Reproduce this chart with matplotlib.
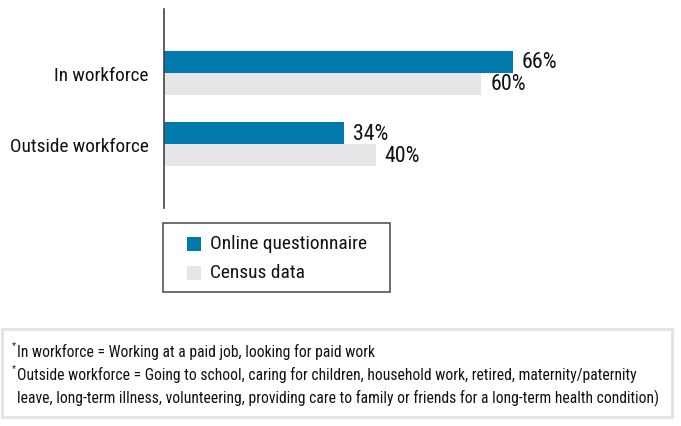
import os
import matplotlib
matplotlib.use("Agg")
import matplotlib.pyplot as plt
from matplotlib.patches import Rectangle
from matplotlib import font_manager as fm

categories = ["In workforce", "Outside workforce"]
series_names = ["Online questionnaire", "Census data"]
online = [66, 34]
census = [60, 40]
value_labels_online = ["66%", "34%"]
value_labels_census = ["60%", "40%"]
footnotes = [
    "In workforce = Working at a paid job, looking for paid work",
    "Outside workforce = Going to school, caring for children, household work, retired, maternity/paternity",
    "leave, long-term illness, volunteering, providing care to family or friends for a long-term health condition)",
]

BLUE = "#0079ad"
GRAY = "#e6e6e8"
TXT = "#111111"


def pick_condensed():
    prefs = ["Liberation Sans Narrow", "Roboto Condensed", "Roboto", "Noto Sans Condensed",
             "Noto Sans", "Open Sans Condensed", "Open Sans", "DejaVu Sans Condensed", "DejaVu Sans"]
    found = {}
    for f in fm.fontManager.ttflist:
        base = os.path.basename(f.fname)
        condensed = ("condensed" in str(f.stretch) or "Narrow" in f.name or "Condensed" in f.name
                     or "Condensed" in base or "Narrow" in base)
        if not condensed:
            continue
        if "ultra" in str(f.stretch) or "extra" in str(f.stretch).lower():
            continue
        if f.style != "normal" or "Italic" in base:
            continue
        if f.weight not in (400, "normal", "regular", "book", "Regular"):
            continue
        if "Bold" in base or "Light" in base or "Medium" in base or "Black" in base or "Thin" in base:
            continue
        found.setdefault(f.name, f.fname)
    for p in prefs:
        if p in found:
            return fm.FontProperties(fname=found[p])
    for n in sorted(found):
        if "CJK" not in n and n.startswith(("Noto Sans", "DejaVu", "Liberation", "Roboto", "Open")):
            return fm.FontProperties(fname=found[n])
    return fm.FontProperties(family="Liberation Sans")


FP = pick_condensed()

W, H = 681, 427
fig = plt.figure(figsize=(W / 100, H / 100), dpi=100)
renderer = fig.canvas.get_renderer()


def fit_size(s, target_px):
    t = fig.text(0, 0, s, fontproperties=FP, fontsize=10)
    w = t.get_window_extent(renderer).width
    t.remove()
    return 10 * target_px / w


def fx(px):
    return px / W


def fy(py):
    return 1 - py / H


size_cat = fit_size("Outside workforce", 138)
size_val = fit_size("66%", 35)
size_leg = fit_size("Online questionnaire", 156)
size_foot = fit_size(footnotes[2], 640)

ax_left, ax_right, ax_top, ax_bot = 164, 660, 10, 209
ax = fig.add_axes([fx(ax_left), fy(ax_bot), fx(ax_right - ax_left), (ax_bot - ax_top) / H])
px_per_pct = 5.29
ax.set_xlim(0, (ax_right - ax_left) / px_per_pct)
ax.set_ylim(1.901, -0.901)

h = 0.31
ypos = list(range(len(categories)))
b1 = ax.barh([y - h / 2 for y in ypos], online, height=h, color=BLUE, label=series_names[0])
b2 = ax.barh([y + h / 2 for y in ypos], census, height=h, color=GRAY, label=series_names[1])

for bars, labs in ((b1, value_labels_online), (b2, value_labels_census)):
    for rect, lab in zip(bars, labs):
        ax.annotate(lab, (rect.get_width(), rect.get_y() + rect.get_height() / 2),
                    xytext=(6.3, 0), textcoords="offset points", va="center", ha="left",
                    fontproperties=FP, fontsize=size_val, color=TXT)

ax.set_yticks(ypos)
ax.set_yticklabels(categories)
for lbl in ax.get_yticklabels():
    lbl.set_fontproperties(FP)
    lbl.set_fontsize(size_cat)
    lbl.set_color(TXT)
ax.tick_params(axis="y", length=0, pad=11)
ax.set_xticks([])
for s in ["top", "right", "bottom"]:
    ax.spines[s].set_visible(False)
ax.spines["left"].set_color("#444444")
ax.spines["left"].set_linewidth(1.2)

# Legend box
fig.patches.append(Rectangle((fx(163), fy(293)), fx(390 - 163), (293 - 224) / H,
                             transform=fig.transFigure, fill=False,
                             edgecolor="#555555", linewidth=1.2))
for i, (name, col) in enumerate(zip(series_names, [BLUE, GRAY])):
    cy = 244.5 + i * 29
    fig.patches.append(Rectangle((fx(187), fy(cy + 7)), fx(14), 14 / H,
                                 transform=fig.transFigure, facecolor=col, edgecolor="none"))
    fig.text(fx(210), fy(cy), name, fontproperties=FP, fontsize=size_leg,
             va="center", ha="left", color=TXT)

# Footnote box
fig.patches.append(Rectangle((fx(2), fy(418)), fx(672 - 2), (418 - 330) / H,
                             transform=fig.transFigure, fill=False,
                             edgecolor="#e2e2e2", linewidth=2))
line_y = [352, 375, 398]
for i, (txt, yy) in enumerate(zip(footnotes, line_y)):
    if i < 2:
        fig.text(fx(12), fy(yy - 6), "*", fontproperties=FP, fontsize=size_foot * 0.6,
                 va="center", ha="left", color=TXT)
    fig.text(fx(17), fy(yy), txt, fontproperties=FP, fontsize=size_foot,
             va="center", ha="left", color=TXT)

fig.savefig("out.png", dpi=100)
